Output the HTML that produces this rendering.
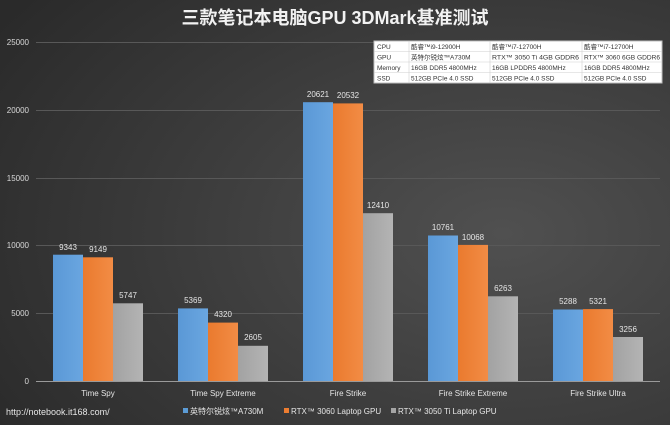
<!DOCTYPE html>
<html><head><meta charset="utf-8"><style>
html,body{margin:0;padding:0;width:670px;height:425px;overflow:hidden}
svg{display:block}
text{font-family:"Liberation Sans","Noto Sans CJK SC",sans-serif}
</style></head><body>
<svg width="670" height="425" viewBox="0 0 670 425" xmlns="http://www.w3.org/2000/svg">
<defs>
<radialGradient id="bg" cx="0.75" cy="0.55" r="0.9">
<stop offset="0" stop-color="#505050"/><stop offset="1" stop-color="#2a2a2a"/>
</radialGradient>
<linearGradient id="gb" x1="0" x2="1"><stop offset="0" stop-color="#5a98d6"/><stop offset="1" stop-color="#6aa6e0"/></linearGradient>
<linearGradient id="go" x1="0" x2="1"><stop offset="0" stop-color="#ea7a2e"/><stop offset="1" stop-color="#f28c45"/></linearGradient>
<linearGradient id="gg" x1="0" x2="1"><stop offset="0" stop-color="#a2a2a2"/><stop offset="1" stop-color="#b4b4b4"/></linearGradient>
</defs>
<rect width="670" height="425" fill="url(#bg)"/>
<text x="335" y="24" fill="#f2f2f2" font-size="18" font-weight="bold" text-anchor="middle">三款笔记本电脑GPU 3DMark基准测试</text>
<g stroke="#585858" stroke-width="1">
<line x1="36" x2="660" y1="42.5" y2="42.5"/>
<line x1="36" x2="660" y1="110.5" y2="110.5"/>
<line x1="36" x2="660" y1="178.5" y2="178.5"/>
<line x1="36" x2="660" y1="245.5" y2="245.5"/>
<line x1="36" x2="660" y1="313.5" y2="313.5"/>
</g>
<g fill="#d9d9d9" font-size="8" text-anchor="end">
<text x="29" y="45">25000</text><text x="29" y="113">20000</text><text x="29" y="181">15000</text>
<text x="29" y="248">10000</text><text x="29" y="316">5000</text><text x="29" y="384">0</text>
</g>
<g>
<rect x="53" y="254.7" width="30" height="126.3" fill="url(#gb)"/>
<rect x="83" y="257.3" width="30" height="123.7" fill="url(#go)"/>
<rect x="113" y="303.3" width="30" height="77.7" fill="url(#gg)"/>
<rect x="178" y="308.4" width="30" height="72.6" fill="url(#gb)"/>
<rect x="208" y="322.6" width="30" height="58.4" fill="url(#go)"/>
<rect x="238" y="345.8" width="30" height="35.2" fill="url(#gg)"/>
<rect x="303" y="102.2" width="30" height="278.8" fill="url(#gb)"/>
<rect x="333" y="103.4" width="30" height="277.6" fill="url(#go)"/>
<rect x="363" y="213.2" width="30" height="167.8" fill="url(#gg)"/>
<rect x="428" y="235.5" width="30" height="145.5" fill="url(#gb)"/>
<rect x="458" y="244.9" width="30" height="136.1" fill="url(#go)"/>
<rect x="488" y="296.3" width="30" height="84.7" fill="url(#gg)"/>
<rect x="553" y="309.5" width="30" height="71.5" fill="url(#gb)"/>
<rect x="583" y="309.1" width="30" height="71.9" fill="url(#go)"/>
<rect x="613" y="337" width="30" height="44" fill="url(#gg)"/>
</g>
<line x1="36" x2="660" y1="381.5" y2="381.5" stroke="#9a9a9a"/>
<g fill="#e6e6e6" font-size="8" text-anchor="middle">
<text x="68" y="250">9343</text><text x="98" y="252">9149</text><text x="128" y="298">5747</text>
<text x="193" y="303">5369</text><text x="223" y="317">4320</text><text x="253" y="340">2605</text>
<text x="318" y="97">20621</text><text x="348" y="98">20532</text><text x="378" y="208">12410</text>
<text x="443" y="230">10761</text><text x="473" y="240">10068</text><text x="503" y="291">6263</text>
<text x="568" y="304">5288</text><text x="598" y="304">5321</text><text x="628" y="332">3256</text>
</g>
<g fill="#e6e6e6" font-size="8" text-anchor="middle">
<text x="98" y="396">Time Spy</text><text x="223" y="396">Time Spy Extreme</text><text x="348" y="396">Fire Strike</text>
<text x="473" y="396">Fire Strike Extreme</text><text x="598" y="396">Fire Strike Ultra</text>
</g>
<text x="6" y="415" fill="#e6e6e6" font-size="9">http://notebook.it168.com/</text>
<g font-size="8" fill="#e6e6e6">
<rect x="183" y="408" width="5" height="5" fill="#5b9bd5"/><text x="190" y="414">英特尔锐炫™A730M</text>
<rect x="284" y="408" width="5" height="5" fill="#ed7d31"/><text x="291" y="414">RTX™ 3060 Laptop GPU</text>
<rect x="391" y="408" width="5" height="5" fill="#a5a5a5"/><text x="398" y="414">RTX™ 3050 Ti Laptop GPU</text>
</g>
<g>
<rect x="374" y="41" width="288" height="42" fill="#ffffff" stroke="#bfbfbf"/>
<g stroke="#d0d0d0" stroke-width="0.6">
<line x1="374" x2="662" y1="51.5" y2="51.5"/><line x1="374" x2="662" y1="62" y2="62"/><line x1="374" x2="662" y1="72.5" y2="72.5"/>
<line x1="409" x2="409" y1="41" y2="83"/><line x1="490" x2="490" y1="41" y2="83"/><line x1="582" x2="582" y1="41" y2="83"/>
</g>
<g font-size="6.5" fill="#333">
<text x="377" y="49">CPU</text><text x="411" y="49">酷睿™i9-12900H</text><text x="492" y="49">酷睿™i7-12700H</text><text x="584" y="49">酷睿™i7-12700H</text>
<text x="377" y="59.5">GPU</text><text x="411" y="59.5">英特尔锐炫™A730M</text><text x="492" y="59.5" textLength="87" lengthAdjust="spacingAndGlyphs">RTX™ 3050 Ti 4GB GDDR6</text><text x="584" y="59.5" textLength="76" lengthAdjust="spacingAndGlyphs">RTX™ 3060 6GB GDDR6</text>
<text x="377" y="70">Memory</text><text x="411" y="70">16GB DDR5 4800MHz</text><text x="492" y="70">16GB LPDDR5 4800MHz</text><text x="584" y="70">16GB DDR5 4800MHz</text>
<text x="377" y="80.5">SSD</text><text x="411" y="80.5">512GB PCIe 4.0 SSD</text><text x="492" y="80.5">512GB PCIe 4.0 SSD</text><text x="584" y="80.5">512GB PCIe 4.0 SSD</text>
</g>
</g>
</svg>
</body></html>
